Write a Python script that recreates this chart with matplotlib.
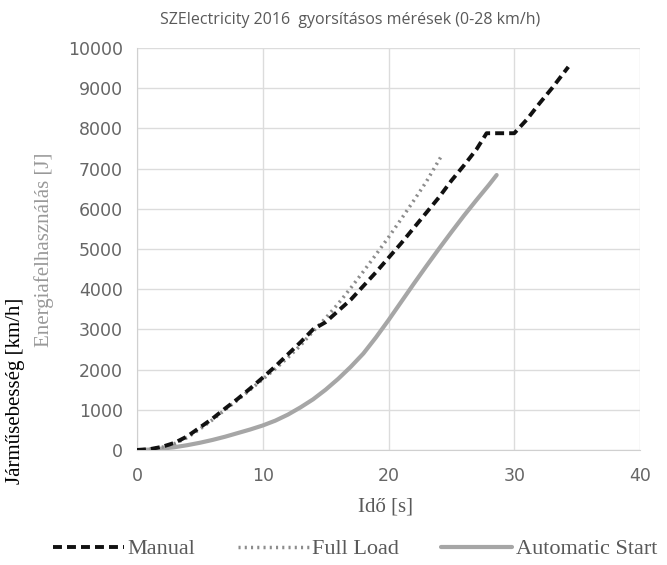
import matplotlib
matplotlib.use("Agg")
import matplotlib.pyplot as plt

# Data
manual_t = [0, 1, 2, 3, 4, 5, 6, 7, 8, 9, 10, 11, 12, 13, 14, 15, 16, 17, 18, 19, 20, 21, 22, 23, 24, 25, 26, 27, 27.8, 30.0, 31, 32, 33, 34.3]
manual_e = [0, 20, 80, 180, 340, 560, 780, 1030, 1270, 1530, 1800, 2080, 2380, 2680, 3000, 3180, 3460, 3740, 4080, 4420, 4780, 5140, 5520, 5900, 6280, 6700, 7080, 7480, 7880, 7880, 8220, 8620, 9000, 9530]

full_t = [0, 1, 2, 3, 4, 5, 6, 7, 8, 9, 10, 11, 12, 13, 14, 15, 16, 17, 18, 19, 20, 21, 22, 23, 24.2]
full_e = [0, 20, 70, 160, 310, 520, 750, 1000, 1240, 1500, 1760, 2020, 2300, 2600, 2950, 3280, 3640, 4030, 4440, 4860, 5290, 5740, 6200, 6670, 7310]

auto_t = [0, 1, 2, 3, 4, 5, 6, 7, 8, 9, 10, 11, 12, 13, 14, 15, 16, 17, 18, 19, 20, 21, 22, 23, 24, 25, 26, 27, 28, 28.6]
auto_e = [0, 10, 35, 70, 120, 180, 250, 330, 420, 510, 610, 730, 880, 1060, 1260, 1500, 1770, 2070, 2400, 2800, 3230, 3680, 4130, 4570, 5000, 5420, 5830, 6220, 6600, 6840]

x_ticks = [0, 10, 20, 30, 40]
y_ticks = [0, 1000, 2000, 3000, 4000, 5000, 6000, 7000, 8000, 9000, 10000]

title = "SZElectricity 2016  gyorsításos mérések (0-28 km/h)"

fig = plt.figure(figsize=(6.67, 5.65), dpi=100)
ax = fig.add_axes([137/667, 1 - 450/565, (640-137)/667, (450-48)/565])

ax.plot(auto_t, auto_e, color="#a6a6a6", lw=3, solid_capstyle="round", label="Automatic Start", zorder=3)
ax.plot(full_t, full_e, color="#8c8c8c", lw=2.5, linestyle=(0, (0.6, 1.2)), label="Full Load", zorder=4)
ax.plot(manual_t, manual_e, color="#111111", lw=2.8, linestyle=(0, (2.3, 1.3)), label="Manual", zorder=5)

ax.set_xlim(0, 40)
ax.set_ylim(0, 10000)
ax.set_xticks(x_ticks)
ax.set_yticks(y_ticks)
ax.grid(True, color="#dcdcdc", lw=1)
ax.set_axisbelow(True)
for s in ["top", "right"]:
    ax.spines[s].set_visible(False)
for s in ["left", "bottom"]:
    ax.spines[s].set_color("#d0d0d0")
ax.tick_params(axis="y", length=0, colors="#595959", labelsize=12.5, pad=10)
ax.tick_params(axis="x", length=0, colors="#595959", labelsize=12.5, pad=12)
for lbl in ax.get_xticklabels() + ax.get_yticklabels():
    lbl.set_fontfamily("DejaVu Sans")
    lbl.set_color("#666666")

fig.text(350/667, 1 - 20/565, title, ha="center", va="center",
         fontsize=11.5, color="#595959", family="Open Sans")

fig.text(386/667, 1 - 507/565, "Idő [s]", ha="center", va="center",
         family="Liberation Serif", fontsize=15, color="#595959")

fig.text(44/667, 1 - 250/565, "Energiafelhasználás [J]", rotation=90, ha="center", va="center",
         fontsize=15, color="#999999", family="Liberation Serif")
fig.text(16/667, 1 - 391/565, "Járműsebesség [km/h]", rotation=90, ha="center", va="center",
         fontsize=15, color="black", family="Liberation Serif")

handles, labels = ax.get_legend_handles_labels()
order = [2, 1, 0]
leg = fig.legend([handles[i] for i in order], [labels[i] for i in order],
                 loc="center", bbox_to_anchor=(355/667, 1 - 549/565), ncol=3, frameon=False,
                 handlelength=3.2, handletextpad=0.15, columnspacing=1.9,
                 prop={"family": "Liberation Serif", "size": 16})
for t in leg.get_texts():
    t.set_color("#595959")

fig.savefig("out.png", dpi=100)
